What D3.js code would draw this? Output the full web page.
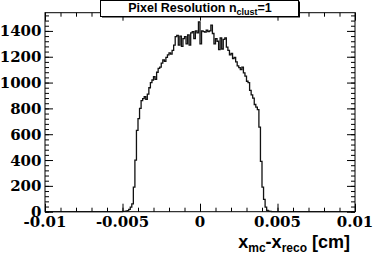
<!DOCTYPE html>
<html>
<head>
<meta charset="utf-8">
<script src="https://d3js.org/d3.v7.min.js"></script>
<style>
body { margin: 0; background: #fff; }
svg { display: block; }
text.num { font-family: "DejaVu Serif", serif; font-weight: 700; font-size: 15px; }
text.lab { font-family: "Liberation Sans", Arial, sans-serif; font-weight: 700; }
</style>
</head>
<body>
<script>
// histogram: 200 bins from -0.01 to 0.01, only bins with entries listed
var binLow = -0.01;
var binWidth = 0.0001;
var nBins = 200;
var firstX = -0.0050;
var counts = [
    2, 3, 5, 9, 18, 35, 60, 190, 400, 630,
    720, 800, 860, 875, 890, 870, 910, 960, 1000, 1020,
    1045, 1025, 1080, 1110, 1120, 1150, 1175, 1165, 1195, 1215,
    1230, 1220, 1250, 1290, 1355, 1365, 1290, 1360, 1280, 1340,
    1355, 1300, 1370, 1290, 1385, 1395, 1340, 1400, 1385, 1470,
    1300, 1400, 1395, 1390, 1405, 1395, 1400, 1445, 1380, 1300,
    1340, 1320, 1255, 1345, 1260, 1335, 1345, 1275, 1250, 1215,
    1225, 1185, 1195, 1160, 1130, 1115, 1100, 1120, 1075, 1050,
    1010, 1000, 940, 905, 880, 830, 810, 790, 655, 390,
    190, 95, 35, 10, 4, 2, 1
];

var xTicks = [-0.01, -0.005, 0, 0.005, 0.01];
var xTickLabels = ["-0.01", "-0.005", "0", "0.005", "0.01"];
var yTicks = [0, 200, 400, 600, 800, 1000, 1200, 1400];
var yMax = 1541;

function drawHisto() {
    var width = 374, height = 253;
    var left = 45, right = 355, top = 12.7, bottom = 211.7;

    var svg = d3.select("body").append("svg")
        .attr("width", width)
        .attr("height", height);

    var x = d3.scaleLinear().domain([binLow, binLow + nBins * binWidth]).range([left, right]);
    var y = d3.scaleLinear().domain([0, yMax]).range([bottom, top]);

    // full bin contents, zero outside the filled range
    var offset = Math.round((firstX - binLow) / binWidth);
    var bins = d3.range(nBins).map(function (i) {
        var v = (i >= offset && i < offset + counts.length) ? counts[i - offset] : 0;
        return { x0: binLow + i * binWidth, v: v };
    });
    bins.push({ x0: binLow + nBins * binWidth, v: 0 });

    // frame
    svg.append("rect")
        .attr("x", left).attr("y", top)
        .attr("width", right - left).attr("height", bottom - top)
        .attr("fill", "none").attr("stroke", "#000").attr("stroke-width", 1);

    // histogram
    var line = d3.line()
        .x(function (d) { return x(d.x0); })
        .y(function (d) { return y(d.v); })
        .curve(d3.curveStepAfter);

    svg.append("path")
        .datum(bins)
        .attr("d", line)
        .attr("fill", "none")
        .attr("stroke", "#111")
        .attr("stroke-width", 1.3);

    // axes: ticks inside the frame, mirrored on top and right
    var xMinor = d3.range(-10, 11).map(function (k) { return k * 0.001; });
    var yMinor = d3.range(0, 1541, 40);

    function ticks(axis, tr) {
        svg.append("g").attr("transform", tr)
            .call(axis)
            .call(function (g) {
                g.select(".domain").remove();
                g.selectAll("line").attr("stroke", "#000");
            });
    }

    ticks(d3.axisBottom(x).tickValues(xMinor).tickSize(-4).tickFormat(""), "translate(0," + bottom + ")");
    ticks(d3.axisTop(x).tickValues(xMinor).tickSize(-4).tickFormat(""), "translate(0," + top + ")");
    ticks(d3.axisLeft(y).tickValues(yMinor).tickSize(-4).tickFormat(""), "translate(" + left + ",0)");
    ticks(d3.axisRight(y).tickValues(yMinor).tickSize(-4).tickFormat(""), "translate(" + right + ",0)");

    // major ticks
    ticks(d3.axisBottom(x).tickValues(xTicks).tickSize(-8).tickFormat(""), "translate(0," + bottom + ")");
    ticks(d3.axisTop(x).tickValues(xTicks).tickSize(-8).tickFormat(""), "translate(0," + top + ")");
    ticks(d3.axisLeft(y).tickValues(yTicks).tickSize(-8).tickFormat(""), "translate(" + left + ",0)");
    ticks(d3.axisRight(y).tickValues(yTicks).tickSize(-8).tickFormat(""), "translate(" + right + ",0)");

    // tick labels
    svg.selectAll("text.xnum").data(xTicks).enter().append("text")
        .attr("class", "num")
        .attr("x", function (d) { return x(d); })
        .attr("y", 227)
        .attr("text-anchor", "middle")
        .text(function (d, i) { return xTickLabels[i]; });

    svg.selectAll("text.ynum").data(yTicks).enter().append("text")
        .attr("class", "num")
        .attr("x", 41.5)
        .attr("y", function (d) { return y(d) + 5.5; })
        .attr("text-anchor", "end")
        .text(function (d) { return d; });

    // axis title
    var xt = svg.append("text")
        .attr("class", "lab")
        .attr("x", 350)
        .attr("y", 248)
        .attr("text-anchor", "end")
        .attr("font-size", 18);
    xt.append("tspan").text("x");
    xt.append("tspan").attr("font-size", 12).attr("dy", 4).text("mc");
    xt.append("tspan").attr("dy", -4).text("-x");
    xt.append("tspan").attr("font-size", 12).attr("dy", 4).text("reco");
    xt.append("tspan").attr("dy", -4).text(" [cm]");

    // title box
    svg.append("rect")
        .attr("x", 102).attr("y", 1.5).attr("width", 198).attr("height", 16)
        .attr("fill", "#000");
    svg.append("rect")
        .attr("x", 100.5).attr("y", 0.5).attr("width", 198).attr("height", 16)
        .attr("fill", "#fff").attr("stroke", "#000").attr("stroke-width", 1);

    var tt = svg.append("text")
        .attr("class", "lab")
        .attr("x", 200)
        .attr("y", 12)
        .attr("text-anchor", "middle")
        .attr("font-size", 12.5);
    tt.append("tspan").text("Pixel Resolution n");
    tt.append("tspan").attr("font-size", 9).attr("dy", 3).text("clust");
    tt.append("tspan").attr("dy", -3).text("=1");
}

window.onload = function () {
    drawHisto();
};
</script>
</body>
</html>
